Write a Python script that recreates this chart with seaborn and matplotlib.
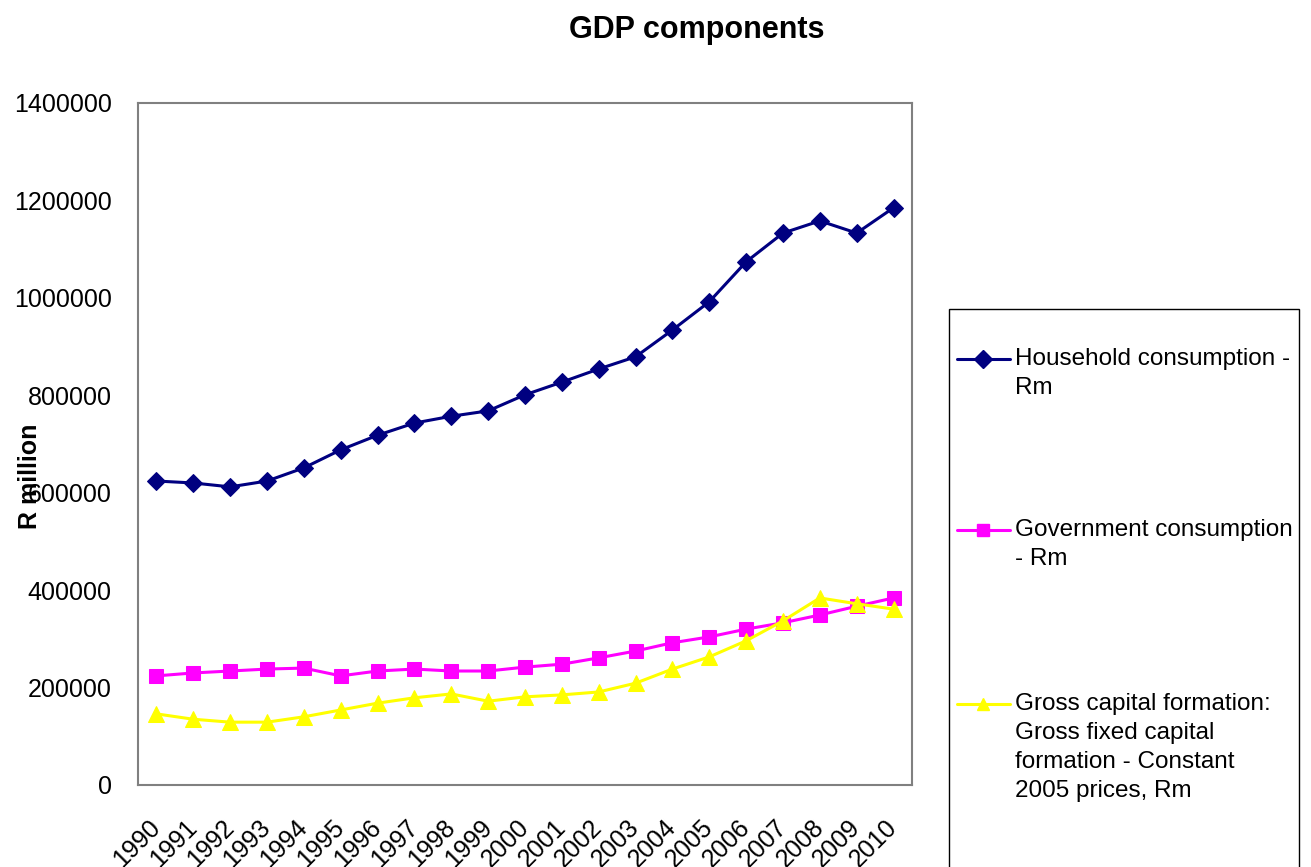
import matplotlib
matplotlib.use('Agg')
import matplotlib.pyplot as plt
from matplotlib.lines import Line2D
from matplotlib.patches import Rectangle
import numpy as np
import pandas as pd
import seaborn as sns

# dados (R milhões)
years = [str(y) for y in range(1990, 2011)]
household = [624000, 620000, 612000, 624000, 651000, 688000, 718000, 743000, 757000, 768000,
             801000, 827000, 854000, 879000, 934000, 992000, 1074000, 1133000, 1158000, 1133000, 1185000]
government = [224000, 230000, 234000, 238000, 240000, 224000, 234000, 238000, 234000, 234000,
              242000, 248000, 261000, 275000, 292000, 304000, 320000, 333000, 349000, 367000, 384000]
gross_capital = [146000, 135000, 129000, 129000, 140000, 154000, 168000, 179000, 187000, 172000,
                 181000, 185000, 191000, 209000, 238000, 263000, 296000, 337000, 384000, 372000, 361000]

labels = ['Household consumption -\nRm',
          'Government consumption\n- Rm',
          'Gross capital formation:\nGross fixed capital\nformation - Constant\n2005 prices, Rm']
colors = ['#000080', '#FF00FF', '#FFFF00']
markers = ['D', 's', '^']
msizes = [9.5, 10, 11]

sns.set_style('white')
plt.rcParams['font.family'] = ['Liberation Sans', 'DejaVu Sans']
plt.rcParams['text.color'] = 'black'
plt.rcParams['xtick.labelcolor'] = 'black'
plt.rcParams['ytick.labelcolor'] = 'black'

W, H = 1311, 867
fig = plt.figure(figsize=(W / 100, H / 100), dpi=100)
ax = fig.add_axes([138 / W, 1 - 785 / H, 774 / W, 682 / H])

x = np.arange(len(years))
for vals, c, m, ms in zip([household, government, gross_capital], colors, markers, msizes):
    df = pd.DataFrame({'x': x, 'y': vals})
    sns.lineplot(data=df, x='x', y='y', color=c, marker=m, markersize=ms,
                 markeredgecolor=c, linewidth=2.2, ax=ax)

ax.set_xlim(-0.5, len(years) - 0.5)
ax.set_ylim(0, 1400000)
ax.set_yticks(np.arange(0, 1400001, 200000))
ax.set_yticklabels([str(v) for v in range(0, 1400001, 200000)], fontsize=18)
ax.set_xticks(x)
ax.set_xticklabels(years, fontsize=18, rotation=45, ha='right', va='center', rotation_mode='anchor')
ax.set_xticks(np.arange(-0.5, len(years)), minor=True)
ax.tick_params(axis='x', which='major', length=0, pad=28)
ax.tick_params(axis='x', which='minor', length=6, width=1.2, color='#808080', direction='out')
ax.tick_params(axis='y', length=6, width=1.2, color='#808080', direction='out', pad=13)
ax.set_xlabel('')
ax.set_ylabel('')
for s in ax.spines.values():
    s.set_color('#808080')
    s.set_linewidth(1.5)

# títulos
fig.text(697 / W, 1 - 30 / H, 'GDP components', fontsize=22, fontweight='bold', ha='center', va='center')
fig.text(30 / W, 1 - 476 / H, 'R million', fontsize=18, fontweight='bold', rotation=90,
         ha='center', va='center')

# legenda desenhada à mão (caixa alta à direita)
fig.patches.append(Rectangle((949 / W, 1 - 872 / H), 350 / W, 563 / H, transform=fig.transFigure,
                             facecolor='white', edgecolor='black', linewidth=1.0))
for lab, c, m, yy in zip(labels, colors, markers, [359, 530, 704]):
    fig.lines.append(Line2D([957 / W, 1010 / W], [1 - yy / H, 1 - yy / H], transform=fig.transFigure,
                            color=c, linewidth=2.2))
    fig.lines.append(Line2D([983 / W], [1 - yy / H], transform=fig.transFigure, color=c,
                            marker=m, markersize=9, linestyle='none'))
    fig.text(1015 / W, 1 - (yy - 11) / H, lab, fontsize=17.5, ha='left', va='top', linespacing=1.42)

fig.savefig('out.png', dpi=100)
